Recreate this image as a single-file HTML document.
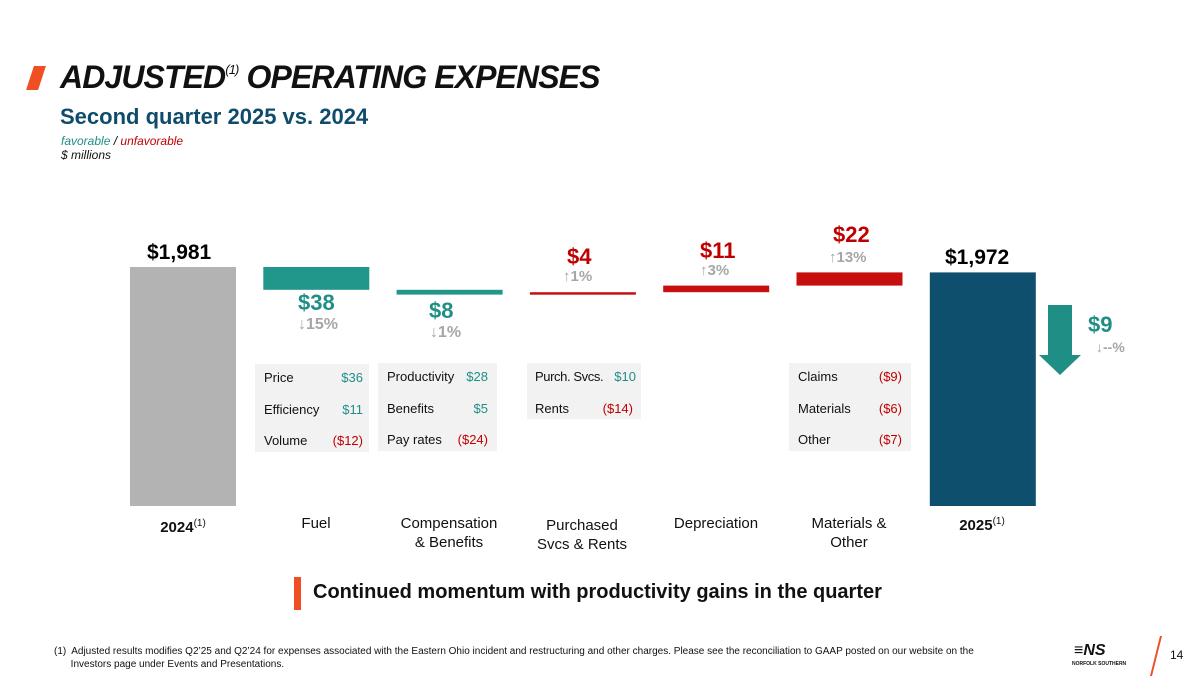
<!DOCTYPE html>
<html><head><meta charset="utf-8">
<style>
body{margin:0;width:1200px;height:675px;background:#fff;font-family:"Liberation Sans",Arial,sans-serif;position:relative;overflow:hidden}
.a{position:absolute}
.tb{background:#f2f2f2;position:absolute;font-size:13px;color:#111}
.tb div{position:absolute}
.g{color:#1f8f86}.r{color:#c00000}.gr{color:#a6a6a6}
.cat{position:absolute;font-size:15px;color:#111;text-align:center;width:140px;line-height:19px}
</style></head><body>
<div class="a" style="left:30px;top:66px;width:12px;height:24px;background:#f04e23;transform:skewX(-18deg)"></div>
<div class="a" style="left:60px;top:59px;font-size:32px;font-weight:bold;font-style:italic;color:#111;letter-spacing:-0.9px">ADJUSTED<sup style="font-size:13px;font-weight:normal;vertical-align:14px">(1)</sup> OPERATING EXPENSES</div>
<div class="a" style="left:60px;top:104px;font-size:22px;font-weight:bold;color:#0f4c6b">Second quarter 2025 vs. 2024</div>
<div class="a" style="left:61px;top:134px;font-size:12px;font-style:italic"><span class="g">favorable</span> / <span class="r">unfavorable</span></div>
<div class="a" style="left:61px;top:148px;font-size:12px;font-style:italic;color:#111">$ millions</div>

<svg class="a" style="left:0;top:0" width="1200" height="675" id="chart"></svg>

<div class="a" style="left:147px;top:241px;font-size:21px;font-weight:bold">$1,981</div>
<div class="a" style="left:945px;top:246px;font-size:21px;font-weight:bold">$1,972</div>
<div class="a g" style="left:298px;top:290px;font-size:22px;font-weight:bold">$38</div>
<div class="a gr" style="left:298px;top:316px;font-size:16px;font-weight:bold">↓15%</div>
<div class="a g" style="left:429px;top:298px;font-size:22px;font-weight:bold">$8</div>
<div class="a gr" style="left:430px;top:324px;font-size:16px;font-weight:bold">↓1%</div>
<div class="a r" style="left:567px;top:244px;font-size:22px;font-weight:bold">$4</div>
<div class="a gr" style="left:563px;top:268px;font-size:15px;font-weight:bold">↑1%</div>
<div class="a r" style="left:700px;top:238px;font-size:22px;font-weight:bold">$11</div>
<div class="a gr" style="left:700px;top:262px;font-size:15px;font-weight:bold">↑3%</div>
<div class="a r" style="left:833px;top:222px;font-size:22px;font-weight:bold">$22</div>
<div class="a gr" style="left:829px;top:249px;font-size:15px;font-weight:bold">↑13%</div>
<div class="a g" style="left:1088px;top:312px;font-size:22px;font-weight:bold">$9</div>
<div class="a gr" style="left:1096px;top:339px;font-size:14px;font-weight:bold">↓--%</div>

<div class="tb" style="left:255px;top:364px;width:114px;height:88px">
<div style="left:9px;top:6px">Price</div><div class="g" style="right:6px;top:6px">$36</div>
<div style="left:9px;top:38px">Efficiency</div><div class="g" style="right:6px;top:38px">$11</div>
<div style="left:9px;top:69px">Volume</div><div class="r" style="right:6px;top:69px">($12)</div></div>
<div class="tb" style="left:378px;top:363px;width:119px;height:88px">
<div style="left:9px;top:6px">Productivity</div><div class="g" style="right:9px;top:6px">$28</div>
<div style="left:9px;top:38px">Benefits</div><div class="g" style="right:9px;top:38px">$5</div>
<div style="left:9px;top:69px">Pay rates</div><div class="r" style="right:9px;top:69px">($24)</div></div>
<div class="tb" style="left:527px;top:363px;width:114px;height:56px">
<div style="left:8px;top:6px;letter-spacing:-0.4px">Purch. Svcs.</div><div class="g" style="right:5px;top:6px">$10</div>
<div style="left:8px;top:38px">Rents</div><div class="r" style="right:8px;top:38px">($14)</div></div>
<div class="tb" style="left:789px;top:363px;width:122px;height:88px">
<div style="left:9px;top:6px">Claims</div><div class="r" style="right:9px;top:6px">($9)</div>
<div style="left:9px;top:38px">Materials</div><div class="r" style="right:9px;top:38px">($6)</div>
<div style="left:9px;top:69px">Other</div><div class="r" style="right:9px;top:69px">($7)</div></div>

<div class="cat" style="left:113px;top:514px;font-weight:bold">2024<sup style="font-size:10px;font-weight:normal">(1)</sup></div>
<div class="cat" style="left:246px;top:514px">Fuel</div>
<div class="cat" style="left:379px;top:514px">Compensation<br>&amp; Benefits</div>
<div class="cat" style="left:512px;top:516px">Purchased<br>Svcs &amp; Rents</div>
<div class="cat" style="left:646px;top:514px">Depreciation</div>
<div class="cat" style="left:779px;top:514px">Materials &amp;<br>Other</div>
<div class="cat" style="left:912px;top:512px;font-weight:bold">2025<sup style="font-size:10px;font-weight:normal">(1)</sup></div>

<div class="a" style="left:294px;top:577px;width:7px;height:33px;background:#f04e23"></div>
<div class="a" style="left:313px;top:581px;font-size:20px;font-weight:bold;color:#111;transform:scaleX(1.0);transform-origin:left">Continued momentum with productivity gains in the quarter</div>
<div class="a" style="left:54px;top:645px;font-size:10px;color:#111;line-height:13px">(1)&nbsp; Adjusted results modifies Q2’25 and Q2’24 for expenses associated with the Eastern Ohio incident and restructuring and other charges. Please see the reconciliation to GAAP posted on our website on the<br>&nbsp;&nbsp;&nbsp;&nbsp;&nbsp; Investors page under Events and Presentations.</div>
<div class="a" style="left:1074px;top:642px;font-size:16px;font-weight:bold;font-style:italic;color:#111">≡NS</div>
<div class="a" style="left:1072px;top:661px;font-size:5px;font-weight:bold;color:#111">NORFOLK SOUTHERN</div>
<div class="a" style="left:1155px;top:636px;width:2px;height:40px;background:#f04e23;transform:skewX(-14deg)"></div>
<div class="a" style="left:1170px;top:648px;font-size:12px;color:#111">14</div>

<script>
const categories=["2024","Fuel","Compensation & Benefits","Purchased Svcs & Rents","Depreciation","Materials & Other","2025"];
const startTotal=1981;
const deltas=[-38,-8,4,11,22];
const endTotal=1972;
const NS="http://www.w3.org/2000/svg";
const svg=document.getElementById('chart');
const base=1981,y0=267,k=0.6,axisY=506;
function y(v){return y0+(base-v)*k;}
function x(i){return 130+i*133.3;}
const bw=106;
function rect(xx,yy,w,h,fill,name){const r=document.createElementNS(NS,'rect');r.setAttribute('x',xx);r.setAttribute('y',yy);r.setAttribute('width',w);r.setAttribute('height',Math.max(h,2.5));r.setAttribute('fill',fill);


svg.appendChild(r);}
rect(x(0),y(startTotal),bw,axisY-y(startTotal),'#b3b3b3','bar-2024');
let cum=startTotal;
deltas.forEach((d,i)=>{const n=cum+d;const top=y(Math.max(cum,n)),bot=y(Math.min(cum,n));
rect(x(i+1),top,bw,bot-top,d<0?'#21968b':'#c80f0f','bar-'+categories[i+1].split(' ')[0].toLowerCase());cum=n;});
rect(x(6),y(endTotal),bw,axisY-y(endTotal),'#0e4f6d','bar-2025');
const ar=document.createElementNS(NS,'path');
ar.setAttribute('d','M1048 305 H1072 V355 H1081 L1060 375 L1039 355 H1048 Z');
ar.setAttribute('fill','#1f8f86');


svg.appendChild(ar);
</script>
</body></html>
